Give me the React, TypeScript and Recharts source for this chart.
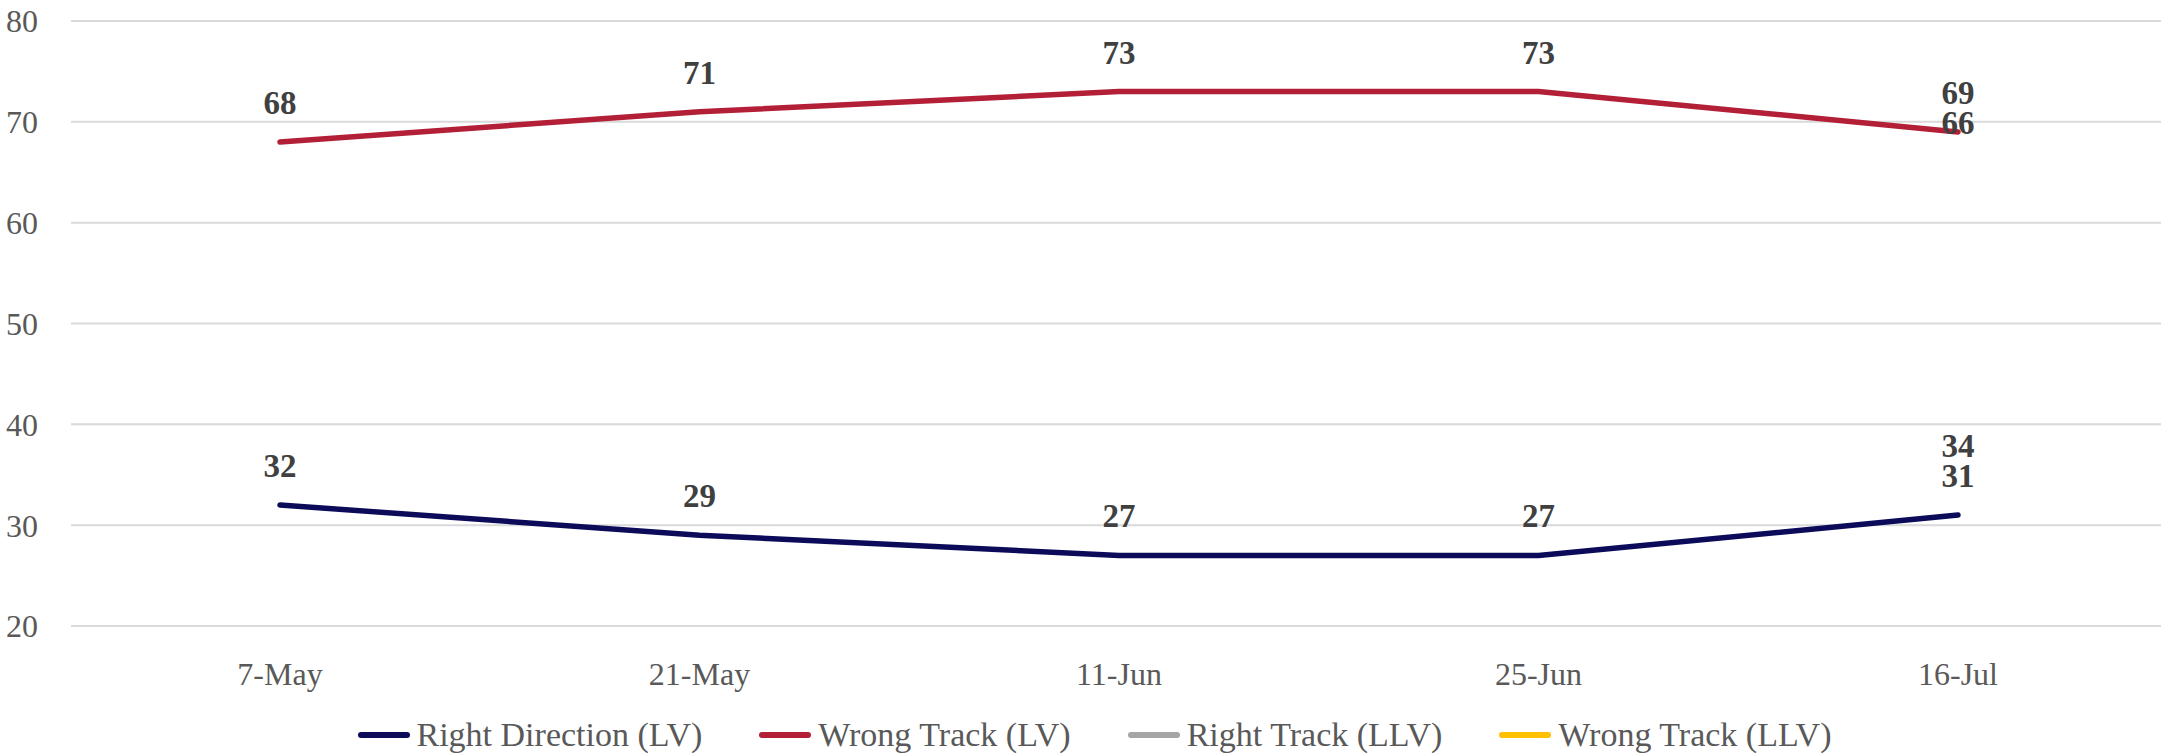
import React from 'react';
import { LineChart, Line, XAxis, YAxis, CartesianGrid, Legend, LabelList } from 'recharts';

const categories = ['7-May', '21-May', '11-Jun', '25-Jun', '16-Jul'];
const seriesNames = ['Right Direction (LV)', 'Wrong Track (LV)', 'Right Track (LLV)', 'Wrong Track (LLV)'];
const rightDirectionLV = [32, 29, 27, 27, 31];
const wrongTrackLV = [68, 71, 73, 73, 69];
const rightTrackLLV: (number | null)[] = [null, null, null, null, 34];
const wrongTrackLLV: (number | null)[] = [null, null, null, null, 66];
const yTicks = [20, 30, 40, 50, 60, 70, 80];

const data = categories.map((c, i) => ({
  name: c,
  rdLV: rightDirectionLV[i],
  wtLV: wrongTrackLV[i],
  rtLLV: rightTrackLLV[i],
  wtLLV: wrongTrackLLV[i],
}));

const FONT = '"Liberation Serif", "Times New Roman", serif';

const DataLabel = (props: any) => {
  const { x, y, value } = props;
  if (value === null || value === undefined || x == null || y == null) return null;
  return (
    <text
      x={x}
      y={y - 39}
      textAnchor="middle"
      dominantBaseline="central"
      fontFamily={FONT}
      fontWeight="bold"
      fontSize={33}
      fill="#404040"
    >
      {value}
    </text>
  );
};

const LegendContent = (props: any) => {
  const payload = [...(props.payload || [])].sort(
    (a: any, b: any) => seriesNames.indexOf(a.value) - seriesNames.indexOf(b.value)
  );
  return (
    <div
      style={{
        display: 'flex',
        justifyContent: 'center',
        alignItems: 'center',
        height: 40,
        paddingLeft: 28,
        fontFamily: FONT,
        fontSize: 34,
        color: '#595959',
      }}
    >
      {payload.map((p: any, i: number) => (
        <div key={i} style={{ display: 'flex', alignItems: 'center', marginRight: i < payload.length - 1 ? 57 : 0 }}>
          <div style={{ width: 52, height: 6, borderRadius: 3, background: p.color, marginRight: 7 }} />
          <span style={{ whiteSpace: 'nowrap' }}>{p.value}</span>
        </div>
      ))}
    </div>
  );
};

export default function App() {
  return (
    <div style={{ position: 'absolute', left: 0, top: 0, background: '#fff' }}>
      <LineChart
        width={2165}
        height={755}
        data={data}
        margin={{ top: 21, right: 4, left: 0, bottom: 0 }}
      >
        <CartesianGrid vertical={false} stroke="#D9D9D9" strokeWidth={2} />
        <XAxis
          dataKey="name"
          axisLine={false}
          tickLine={false}
          tickSize={0}
          tickMargin={36}
          height={89}
          padding={{ left: 209, right: 203 }}
          tick={{ fontFamily: FONT, fontSize: 32, fill: '#595959' }}
          interval={0}
        />
        <YAxis
          domain={[20, 80]}
          ticks={yTicks}
          axisLine={false}
          tickLine={false}
          tickSize={0}
          tickMargin={33}
          width={71}
          tick={{ fontFamily: FONT, fontSize: 32, fill: '#595959' }}
        />
        <Legend verticalAlign="bottom" content={<LegendContent />} />
        <Line
          name={seriesNames[0]}
          dataKey="rdLV"
          stroke="#0B0B5A"
          strokeWidth={5.5}
          strokeLinecap="round"
          dot={false}
          activeDot={false}
          isAnimationActive={false}
        >
          <LabelList dataKey="rdLV" content={<DataLabel />} />
        </Line>
        <Line
          name={seriesNames[1]}
          dataKey="wtLV"
          stroke="#B31F36"
          strokeWidth={5.5}
          strokeLinecap="round"
          dot={false}
          activeDot={false}
          isAnimationActive={false}
        >
          <LabelList dataKey="wtLV" content={<DataLabel />} />
        </Line>
        <Line
          name={seriesNames[2]}
          dataKey="rtLLV"
          stroke="#A5A5A5"
          strokeWidth={5.5}
          dot={false}
          activeDot={false}
          isAnimationActive={false}
        >
          <LabelList dataKey="rtLLV" content={<DataLabel />} />
        </Line>
        <Line
          name={seriesNames[3]}
          dataKey="wtLLV"
          stroke="#FFC000"
          strokeWidth={5.5}
          dot={false}
          activeDot={false}
          isAnimationActive={false}
        >
          <LabelList dataKey="wtLLV" content={<DataLabel />} />
        </Line>
      </LineChart>
    </div>
  );
}
